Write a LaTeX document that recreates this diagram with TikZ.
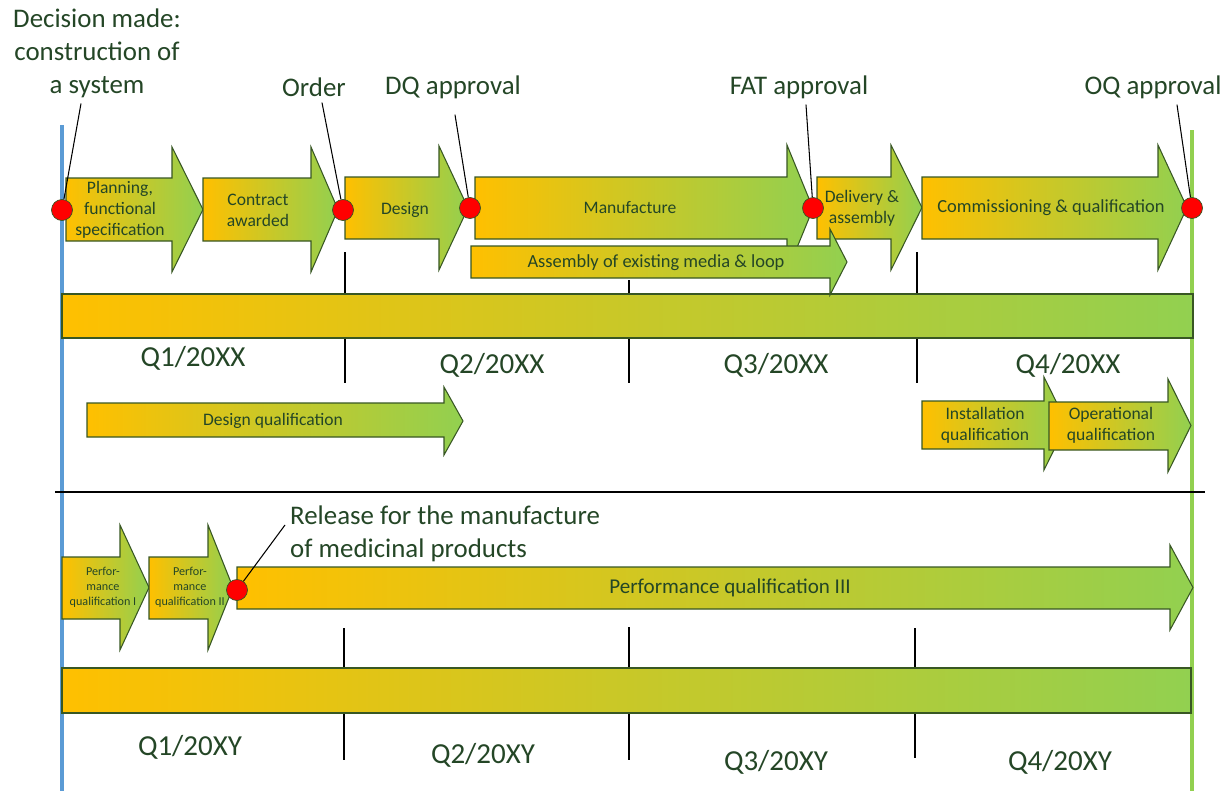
\documentclass[tikz,border=0pt]{standalone}
\usepackage{fontspec}
\setmainfont{Carlito}
\usepackage{xcolor}
\usepackage{tikz}

\definecolor{qorange}{HTML}{FFC000}
\definecolor{qgreen}{HTML}{92D050}
\definecolor{qdark}{HTML}{385723}
\definecolor{qtext}{HTML}{244626}
\definecolor{qblue}{HTML}{5B9BD5}

% tail x, base x, tip x, body top, body bottom, head top, head bottom
\newcommand{\phasearrow}[7]{%
  \shadedraw[phase] (#1,#4) -- (#2,#4) -- (#2,#6) -- (#3,{(#6+#7)/2}) -- (#2,#7) -- (#2,#5) -- (#1,#5) -- cycle;}

\begin{document}
\begin{tikzpicture}[x=0.02cm,y=-0.02cm,
  phase/.style={draw=qdark,line width=0.6pt,left color=qorange,right color=qgreen},
  bar/.style={draw=qdark,line width=0.6pt,left color=qorange,right color=qgreen},
  dot/.style={circle,draw=qdark,fill=red,minimum size=0.42cm,inner sep=0pt},
  head/.style={font=\fontsize{15.3}{18.7}\selectfont,text=qtext,align=center},
  lbl/.style={font=\fontsize{10}{12}\selectfont,text=qtext,align=center},
  tiny/.style={font=\fontsize{6.9}{8.5}\selectfont,text=qtext,align=center},
  qlbl/.style={font=\fontsize{16.5}{19}\selectfont,text=qtext},
  lead/.style={black,line width=0.6pt}]
\useasboundingbox (0,0) rectangle (1221,791);

% side lines
\draw[qblue,line width=2.2pt] (62,125) -- (62,791);
\draw[qgreen,line width=2.2pt] (1192,130) -- (1192,791);

% quarter ticks
\draw[black,line width=0.6pt] (345,252) -- (345,383) (629,280) -- (629,383) (917,252) -- (917,383);
\draw[black,line width=0.6pt] (344,628) -- (344,760) (629,627) -- (629,760) (915,628) -- (915,758);
\draw[black,line width=0.6pt] (55,492) -- (1205,492);

% time bars
\shadedraw[bar] (62,294) rectangle (1193,338);
\shadedraw[bar] (62,668) rectangle (1191,713);

% phases, first year
\phasearrow{66}{172}{203}{178}{241}{147}{272}
\phasearrow{203}{311}{338}{178}{241}{147}{272}
\phasearrow{345}{439}{468}{177}{239}{146}{270}
\phasearrow{475}{787}{813}{177}{239}{145}{272}
\phasearrow{817}{891}{922}{177}{239}{145}{270}
\phasearrow{471}{830}{847}{246}{278}{229}{295}
\phasearrow{922}{1158}{1187}{177}{239}{145}{270}
\phasearrow{87}{444}{463}{403}{437}{387}{455}
\phasearrow{922}{1044}{1067}{401}{449}{377}{470}
\phasearrow{1049}{1168}{1191}{402}{450}{379}{472}

% phases, second year
\phasearrow{62}{120}{149}{557}{619}{525}{650}
\phasearrow{149}{208}{233}{557}{619}{525}{650}
\phasearrow{237}{1170}{1193}{567}{609}{545}{630}

\node[lbl] (plan) at (120,210) {Planning,\\functional\\specification};
\node[lbl] (contract) at (258,210) {Contract\\awarded};
\node[lbl] (design) at (405,210) {Design};
\node[lbl] (manuf) at (630,208) {Manufacture};
\node[lbl] (deliv) at (862,208) {Delivery \&\\assembly};
\node[lbl,font=\fontsize{10.5}{12.5}\selectfont] (commis) at (1051,208) {Commissioning \& qualification};
\node[lbl,font=\fontsize{10.5}{12.5}\selectfont] (assembly) at (656,263) {Assembly of existing media \& loop};
\node[lbl] (dq) at (273,421) {Design qualification};
\node[lbl] (iq) at (985,425) {Installation\\qualification};
\node[lbl] (oq) at (1111,425) {Operational\\qualification};
\node[tiny] (pq1) at (103,587) {Perfor-\\mance\\qualification I};
\node[tiny] (pq2) at (190,587) {Perfor-\\mance\\qualification II};
\node[lbl,font=\fontsize{12}{14}\selectfont] (pq3) at (730,588) {Performance qualification III};

\node[qlbl] (q1) at (193,358) {Q1/20XX};
\node[qlbl] (q2) at (492,365) {Q2/20XX};
\node[qlbl] (q3) at (776,365) {Q3/20XX};
\node[qlbl] (q4) at (1068,365) {Q4/20XX};
\node[qlbl] (r1) at (190,747) {Q1/20XY};
\node[qlbl] (r2) at (483,755) {Q2/20XY};
\node[qlbl] (r3) at (776,762) {Q3/20XY};
\node[qlbl] (r4) at (1060,762) {Q4/20XY};

% milestones
\node[dot] (d1) at (62,210) {};
\node[dot] (d2) at (343,210) {};
\node[dot] (d3) at (470,208) {};
\node[dot] (d4) at (813,208) {};
\node[dot] (d5) at (1192,208) {};
\node[dot] (d6) at (237,590) {};

\node[head] (decision) at (97,53) {Decision made:\\construction of\\a system};
\node[head] (order) at (314,87) {Order};
\node[head] (dqok) at (453,87) {DQ approval};
\node[head] (fatok) at (799,87) {FAT approval};
\node[head] (oqok) at (1153,87) {OQ approval};
\node[head,align=left,anchor=north west] (release) at (284,500) {Release for the manufacture\\of medicinal products};

\draw[lead] ([xshift=-0.32cm]decision.south) -- (d1);
\draw[lead] ([xshift=0.16cm]order.south) -- (d2);
\draw[lead] ([xshift=0.04cm,yshift=-0.2cm]dqok.south) -- (d3);
\draw[lead] ([xshift=0.14cm]fatok.south) -- (d4);
\draw[lead] ([xshift=0.48cm]oqok.south) -- (d5);
\draw[lead] ([xshift=0.02cm,yshift=-0.5cm]release.north west) -- (d6);
\end{tikzpicture}
\end{document}
